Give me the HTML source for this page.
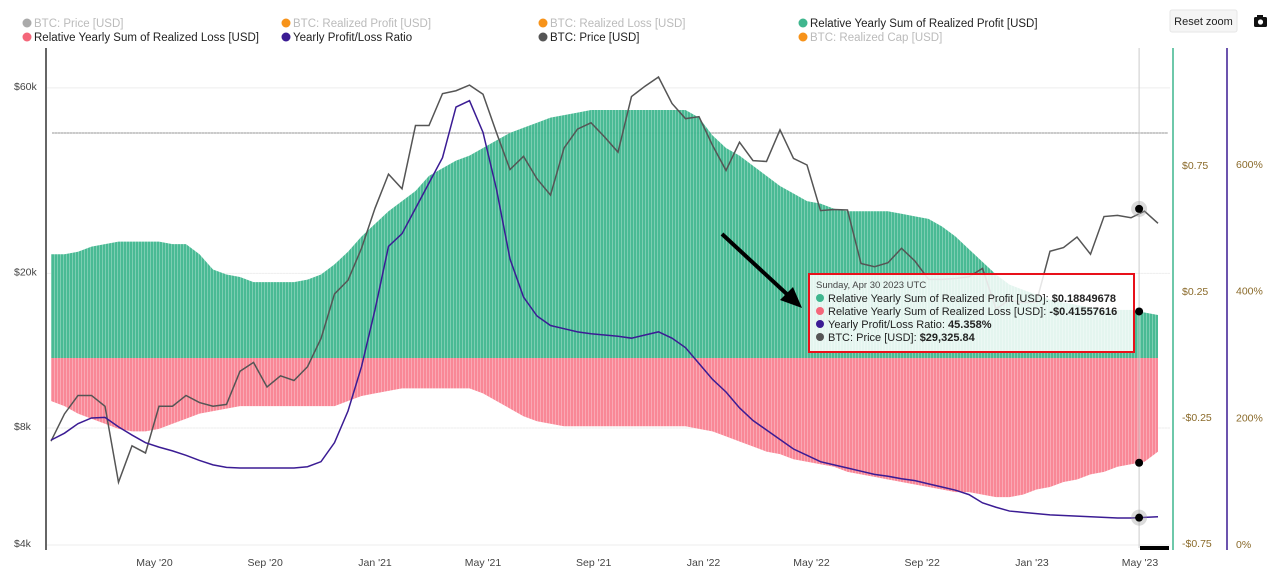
<!DOCTYPE html>
<html><head><meta charset="utf-8"><style>
body{margin:0;background:#fff;font-family:"Liberation Sans",sans-serif;}
svg{display:block}
</style></head><body>
<svg id="chart" width="1284" height="577" viewBox="0 0 1284 577">
<defs>
<pattern id="stripes" width="3" height="10" patternUnits="userSpaceOnUse"><rect x="0" y="0" width="0.8" height="10" fill="#fff" opacity="0.35"/></pattern>
</defs>
<g id="legend" font-size="11.5">
 <g><circle cx="27" cy="23" r="4.5" fill="#aaa"/><text x="34" y="27" fill="#bbb">BTC: Price [USD]</text></g>
 <g><circle cx="286" cy="23" r="4.5" fill="#f7931a"/><text x="293" y="27" fill="#bbb">BTC: Realized Profit [USD]</text></g>
 <g><circle cx="543" cy="23" r="4.5" fill="#f7931a"/><text x="550" y="27" fill="#bbb">BTC: Realized Loss [USD]</text></g>
 <g><circle cx="803" cy="23" r="4.5" fill="#3fb68e"/><text x="810" y="27" fill="#222">Relative Yearly Sum of Realized Profit [USD]</text></g>
 <g><circle cx="27" cy="37" r="4.5" fill="#f4677a"/><text x="34" y="41" fill="#222">Relative Yearly Sum of Realized Loss [USD]</text></g>
 <g><circle cx="286" cy="37" r="4.5" fill="#3b1c94"/><text x="293" y="41" fill="#222">Yearly Profit/Loss Ratio</text></g>
 <g><circle cx="543" cy="37" r="4.5" fill="#555"/><text x="550" y="41" fill="#222">BTC: Price [USD]</text></g>
 <g><circle cx="803" cy="37" r="4.5" fill="#f7931a"/><text x="810" y="41" fill="#bbb">BTC: Realized Cap [USD]</text></g>
</g>
<g><rect x="1170" y="10" width="67" height="22" rx="2" fill="#f5f5f5" stroke="#e6e6e6"/><text x="1203.5" y="25" text-anchor="middle" font-size="11" fill="#222">Reset zoom</text></g>
<g><rect x="1254" y="17" width="13" height="10" rx="1.5" fill="#111"/><rect x="1257" y="15" width="6" height="3" fill="#111"/><circle cx="1260.5" cy="22" r="2.6" fill="#fff"/></g>
<text x="570" y="305" font-size="62" fill="#000" opacity="0.04" text-anchor="middle" font-weight="bold">glassnode</text>
<g id="grid"></g>
<g id="areas"></g>
<g id="lines"></g>
<g id="axes"></g>
<g>
 <rect x="809" y="274" width="325" height="78" fill="#fff" fill-opacity="0.85" stroke="#e8101a" stroke-width="2"/>
 <text x="816" y="288" font-size="9.5" fill="#444">Sunday, Apr 30 2023 UTC</text>
 <g font-size="11" fill="#222">
 <circle cx="820" cy="298" r="4" fill="#3fb68e"/><text x="828" y="302">Relative Yearly Sum of Realized Profit [USD]: <tspan font-weight="bold">$0.18849678</tspan></text>
 <circle cx="820" cy="311" r="4" fill="#f4677a"/><text x="828" y="315">Relative Yearly Sum of Realized Loss [USD]: <tspan font-weight="bold">-$0.41557616</tspan></text>
 <circle cx="820" cy="324" r="4" fill="#3b1c94"/><text x="828" y="328">Yearly Profit/Loss Ratio: <tspan font-weight="bold">45.358%</tspan></text>
 <circle cx="820" cy="337" r="4" fill="#555"/><text x="828" y="341">BTC: Price [USD]: <tspan font-weight="bold">$29,325.84</tspan></text>
 </g>
</g>
<g><line x1="722" y1="234" x2="790" y2="297" stroke="#000" stroke-width="4"/><polygon points="802,308 780,300 793,287" fill="#000"/></g>
<rect x="1140" y="546" width="29" height="4" fill="#000"/>
</svg>
<script>
const priceK=[7.4,8.7,9.7,9.7,9.1,5.8,7.2,6.9,9.1,9.1,9.7,9.3,9.1,9.2,11.2,11.8,10.2,10.9,10.6,11.5,13.6,17.7,19.2,23.2,
29.4,36,33,48,48,58,59,61,57.8,46,37,40,35,31.8,42,47,48.8,44.9,41,57,60.6,64,54.7,50,
50.6,42.7,36.8,43.5,39,38.8,46.8,39.5,38,29,29.2,29.1,21.2,20.8,21.3,23.2,21.5,19.3,19.3,19.4,19.6,20.6,16.2,17.1,
16.8,16.9,22.8,23.3,24.8,22.4,28,28.2,27.8,28.9,26.9];
const relProfit=[0.41,0.41,0.42,0.44,0.45,0.46,0.46,0.46,0.46,0.45,0.45,0.41,0.35,0.33,0.32,0.30,0.30,0.30,0.30,0.31,0.33,0.37,0.42,0.48,
0.53,0.58,0.62,0.66,0.72,0.75,0.78,0.80,0.83,0.86,0.89,0.91,0.93,0.95,0.96,0.97,0.98,0.98,0.98,0.98,0.98,0.98,0.98,0.98,
0.95,0.88,0.83,0.80,0.76,0.72,0.68,0.65,0.62,0.61,0.59,0.58,0.58,0.58,0.58,0.57,0.56,0.55,0.52,0.48,0.43,0.38,0.33,0.29,
0.27,0.25,0.23,0.22,0.21,0.20,0.19,0.19,0.19,0.18,0.17];
const relLoss=[-0.17,-0.19,-0.22,-0.24,-0.26,-0.28,-0.29,-0.29,-0.28,-0.26,-0.24,-0.22,-0.21,-0.20,-0.19,-0.19,-0.19,-0.19,-0.19,-0.19,-0.19,-0.19,-0.17,-0.15,
-0.14,-0.13,-0.12,-0.12,-0.12,-0.12,-0.12,-0.12,-0.14,-0.17,-0.20,-0.23,-0.25,-0.26,-0.27,-0.27,-0.27,-0.27,-0.27,-0.27,-0.27,-0.27,-0.27,-0.27,
-0.28,-0.29,-0.31,-0.33,-0.35,-0.37,-0.38,-0.40,-0.41,-0.42,-0.43,-0.45,-0.46,-0.47,-0.48,-0.49,-0.50,-0.51,-0.52,-0.53,-0.53,-0.54,-0.55,-0.55,
-0.54,-0.52,-0.51,-0.49,-0.48,-0.46,-0.45,-0.43,-0.42,-0.41,-0.37];
const ratioPct=[164,175,190,199,200,185,172,160,153,147,140,132,125,121,120,120,120,120,120,122,130,160,210,280,
370,470,490,530,570,610,690,700,650,560,450,390,360,345,340,335,332,330,328,325,330,335,325,310,
285,260,240,215,195,180,165,150,140,130,125,120,115,110,107,103,100,95,90,85,78,65,58,52,
50,48,46,45,44,43,42,41,41,42,43];
const xTickLabels=["May '20","Sep '20","Jan '21","May '21","Sep '21","Jan '22","May '22","Sep '22","Jan '23","May '23"];
const xTickDays=[-245,-122,0,120,243,365,485,608,730,850];
const priceTicks=[4,8,20,60];
const relTicks=[0.75,0.25,-0.25,-0.75];
const pctTicks=[0,200,400,600];

const NS="http://www.w3.org/2000/svg";
const start=-360, step=15;
const xDay=d=>375+d*0.9;
const xI=i=>xDay(start+i*step);
const yPrice=p=>428-Math.log2(p/8)*117;
const yRel=v=>358-v*253;
const yRelTick=v=>354-v*252;
const yPct=p=>544-p*0.6333;
function mk(tag,attrs,parent){const e=document.createElementNS(NS,tag);for(const k in attrs)e.setAttribute(k,attrs[k]);document.getElementById(parent).appendChild(e);return e;}

priceTicks.forEach(t=>{const l=mk('line',{x1:47,x2:1170,y1:yPrice(t),y2:yPrice(t),stroke:'#eee'},'grid');

});
const ref=mk('line',{x1:52,x2:1168,y1:133,y2:133,stroke:'#aaa','stroke-width':1.2},'grid');



function areaPath(arr){let d=`M${xI(0)},${yRel(0)}`;arr.forEach((v,i)=>{d+=`L${xI(i)},${yRel(v)}`;});d+=`L${xI(arr.length-1)},${yRel(0)}Z`;return d;}
const pa=mk('path',{d:areaPath(relProfit),fill:'#3fb68e',opacity:0.95},'areas');


const la=mk('path',{d:areaPath(relLoss),fill:'#f98796'},'areas');


const st=mk('rect',{x:50,y:100,width:1120,height:420,fill:'url(#stripes)'},'areas');



const pl=mk('path',{d:priceK.map((p,i)=>(i?'L':'M')+xI(i)+','+yPrice(p)).join(''),fill:'none',stroke:'#555','stroke-width':1.5},'lines');


const rl=mk('path',{d:ratioPct.map((p,i)=>(i?'L':'M')+xI(i)+','+yPct(p)).join(''),fill:'none',stroke:'#3b1c94','stroke-width':1.5},'lines');


const hx=xDay(849);
const ch=mk('line',{x1:hx,x2:hx,y1:48,y2:548,stroke:'#ccc'},'lines');


const interp=(a)=>a[80]+(a[81]-a[80])*0.6;
[[yRel(interp(relProfit))],[yRel(interp(relLoss))],[yPct(interp(ratioPct))],[yPrice(29.3)]].forEach((y,k)=>{
 if(k>=2){const h=mk('circle',{cx:hx,cy:y[0],r:8,fill:'#999',opacity:0.35},'lines');}
 const c=mk('circle',{cx:hx,cy:y[0],r:4,fill:'#000'},'lines');
 
 });

const ax=mk('line',{x1:46,x2:46,y1:48,y2:550,stroke:'#333','stroke-width':1.5},'axes');


const ag=mk('line',{x1:1173,x2:1173,y1:48,y2:550,stroke:'#3fb68e','stroke-width':1.5},'axes');


const ap=mk('line',{x1:1227,x2:1227,y1:48,y2:550,stroke:'#3b1c94','stroke-width':1.5},'axes');


priceTicks.forEach(t=>{const e=mk('text',{x:14,y:yPrice(t)+2,'font-size':10.5,fill:'#444'},'axes');e.textContent='$'+t+'k';

});
relTicks.forEach(t=>{const e=mk('text',{x:1182,y:yRelTick(t)+4,'font-size':10.5,fill:'#8a6a2a'},'axes');e.textContent=(t<0?'-$':'$')+Math.abs(t).toFixed(2);

});
pctTicks.forEach(t=>{const e=mk('text',{x:1236,y:yPct(t)+4,'font-size':10.5,fill:'#8a6a2a'},'axes');e.textContent=t+'%';

});
xTickLabels.forEach((t,i)=>{const e=mk('text',{x:xDay(xTickDays[i]),y:566,'font-size':10.5,fill:'#444','text-anchor':'middle'},'axes');e.textContent=t;

});
</script>
</body></html>
